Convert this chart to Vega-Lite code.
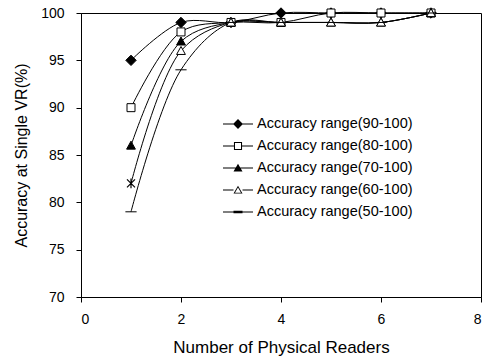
{
  "$schema": "https://vega.github.io/schema/vega-lite/v6.json",
  "width": 400,
  "height": 284,
  "autosize": {"type": "none"},
  "padding": {"left": 81, "top": 13, "right": 6, "bottom": 59},
  "background": "white",
  "config": {
    "font": "Liberation Sans",
    "view": {"stroke": "black", "strokeWidth": 1},
    "axis": {
      "domainColor": "black",
      "tickColor": "black",
      "labelColor": "black",
      "titleColor": "black",
      "labelFontSize": 14,
      "titleFontWeight": "normal",
      "tickSize": 5,
      "grid": false
    }
  },
  "data": {
    "values": [
      {"series": "Accuracy range(90-100)", "readers": 1, "acc": 95},
      {"series": "Accuracy range(90-100)", "readers": 2, "acc": 99},
      {"series": "Accuracy range(90-100)", "readers": 3, "acc": 99},
      {"series": "Accuracy range(90-100)", "readers": 4, "acc": 100},
      {"series": "Accuracy range(90-100)", "readers": 5, "acc": 100},
      {"series": "Accuracy range(90-100)", "readers": 6, "acc": 100},
      {"series": "Accuracy range(90-100)", "readers": 7, "acc": 100},
      {"series": "Accuracy range(80-100)", "readers": 1, "acc": 90},
      {"series": "Accuracy range(80-100)", "readers": 2, "acc": 98},
      {"series": "Accuracy range(80-100)", "readers": 3, "acc": 99},
      {"series": "Accuracy range(80-100)", "readers": 4, "acc": 99},
      {"series": "Accuracy range(80-100)", "readers": 5, "acc": 100},
      {"series": "Accuracy range(80-100)", "readers": 6, "acc": 100},
      {"series": "Accuracy range(80-100)", "readers": 7, "acc": 100},
      {"series": "Accuracy range(70-100)", "readers": 1, "acc": 86},
      {"series": "Accuracy range(70-100)", "readers": 2, "acc": 97},
      {"series": "Accuracy range(70-100)", "readers": 3, "acc": 99},
      {"series": "Accuracy range(70-100)", "readers": 4, "acc": 99},
      {"series": "Accuracy range(70-100)", "readers": 5, "acc": 99},
      {"series": "Accuracy range(70-100)", "readers": 6, "acc": 99},
      {"series": "Accuracy range(70-100)", "readers": 7, "acc": 100},
      {"series": "Accuracy range(60-100)", "readers": 1, "acc": 82},
      {"series": "Accuracy range(60-100)", "readers": 2, "acc": 96},
      {"series": "Accuracy range(60-100)", "readers": 3, "acc": 99},
      {"series": "Accuracy range(60-100)", "readers": 4, "acc": 99},
      {"series": "Accuracy range(60-100)", "readers": 5, "acc": 99},
      {"series": "Accuracy range(60-100)", "readers": 6, "acc": 99},
      {"series": "Accuracy range(60-100)", "readers": 7, "acc": 100},
      {"series": "Accuracy range(50-100)", "readers": 1, "acc": 79},
      {"series": "Accuracy range(50-100)", "readers": 2, "acc": 94},
      {"series": "Accuracy range(50-100)", "readers": 3, "acc": 99},
      {"series": "Accuracy range(50-100)", "readers": 4, "acc": 99},
      {"series": "Accuracy range(50-100)", "readers": 5, "acc": 99},
      {"series": "Accuracy range(50-100)", "readers": 6, "acc": 99},
      {"series": "Accuracy range(50-100)", "readers": 7, "acc": 100}
    ]
  },
  "encoding": {
    "x": {
      "field": "readers",
      "type": "quantitative",
      "scale": {"domain": [0, 8]},
      "axis": {"values": [0, 2, 4, 6, 8], "title": "Number of Physical Readers", "labelPadding": 10, "titlePadding": 13, "titleFontSize": 17}
    },
    "y": {
      "field": "acc",
      "type": "quantitative",
      "scale": {"domain": [70, 100]},
      "axis": {"values": [70, 75, 80, 85, 90, 95, 100], "title": "Accuracy at Single VR(%)", "labelPadding": 12, "titlePadding": 11, "titleFontSize": 16}
    }
  },
  "layer": [
    {
      "mark": {"type": "line", "interpolate": "catmull-rom", "color": "black", "strokeWidth": 1},
      "encoding": {"detail": {"field": "series"}}
    },
    {
      "transform": [{"filter": "!(datum.series == 'Accuracy range(60-100)' && datum.readers == 1)"}],
      "mark": {"type": "point", "filled": true, "stroke": "black", "strokeWidth": 1, "size": 64, "opacity": 1},
      "encoding": {
        "shape": {
          "field": "series",
          "scale": {
            "domain": ["Accuracy range(90-100)", "Accuracy range(80-100)", "Accuracy range(70-100)", "Accuracy range(60-100)", "Accuracy range(50-100)"],
            "range": ["M0,-1.3L1.3,0L0,1.3L-1.3,0Z", "M-1,-1H1V1H-1Z", "M0,-1.1L1.1,0.9H-1.1Z", "M0,-1.1L1.1,0.9H-1.1Z", "M-1.4,0H1.4"]
          },
          "legend": null
        },
        "fill": {
          "field": "series",
          "scale": {
            "domain": ["Accuracy range(90-100)", "Accuracy range(80-100)", "Accuracy range(70-100)", "Accuracy range(60-100)", "Accuracy range(50-100)"],
            "range": ["black", "white", "black", "white", "black"]
          },
          "legend": null
        }
      }
    },
    {
      "transform": [{"filter": "datum.series == 'Accuracy range(60-100)' && datum.readers == 1"}],
      "mark": {"type": "point", "filled": false, "stroke": "black", "strokeWidth": 1.2, "size": 64, "opacity": 1, "shape": "M-1,-1L1,1M-1,1L1,-1M0,-1.2V1.2"}
    },
    {
      "transform": [{"filter": "datum.readers > 100"}],
      "mark": {"type": "point", "filled": true, "color": "black", "strokeWidth": 0, "size": 900, "opacity": 1},
      "encoding": {
        "shape": {
          "field": "series",
          "scale": {
            "domain": ["Accuracy range(90-100)", "Accuracy range(80-100)", "Accuracy range(70-100)", "Accuracy range(60-100)", "Accuracy range(50-100)"],
            "range": [
              "M-1,-0.033H1V0.033H-1ZM0,-0.33L0.33,0L0,0.33L-0.33,0Z",
              "M-1,-0.033H-0.27V0.033H-1ZM0.27,-0.033H1V0.033H0.27ZM-0.27,-0.27H0.27V0.27H-0.27ZM-0.2,-0.2V0.2H0.2V-0.2Z",
              "M-1,-0.033H1V0.033H-1ZM0,-0.28L0.3,0.24H-0.3Z",
              "M-1,-0.033H-0.3V0.033H-1ZM0.3,-0.033H1V0.033H0.3ZM0,-0.28L0.3,0.24H-0.3ZM0,-0.16L-0.2,0.18H0.2Z",
              "M-1,-0.033H1V0.033H-1ZM-0.3,-0.08H0.3V0.08H-0.3Z"
            ]
          },
          "legend": {
            "title": null,
            "orient": "none",
            "legendX": 142,
            "legendY": 96,
            "padding": 0,
            "labelFontSize": 14.5,
            "labelColor": "black",
            "labelOffset": 4,
            "symbolSize": 900,
            "symbolFillColor": "black",
            "symbolStrokeWidth": 0,
            "symbolOpacity": 1,
            "rowPadding": -7.7,
            "encode": {
              "symbols": {
                "fill": {"value": "black"},
                "opacity": {"value": 1},
                "fillOpacity": {"value": 1}
              }
            }
          }
        }
      }
    }
  ],
  "resolve": {"scale": {"shape": "independent", "fill": "independent"}}
}
